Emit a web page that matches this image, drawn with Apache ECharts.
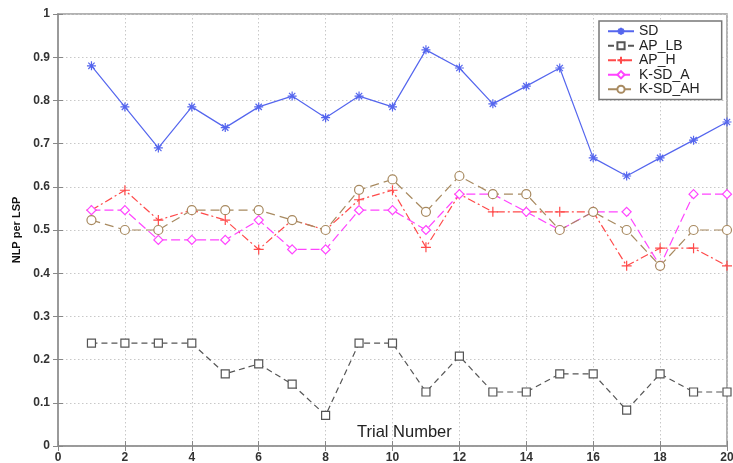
<!DOCTYPE html>
<html>
<head>
<meta charset="utf-8">
<script src="https://cdn.jsdelivr.net/npm/echarts@6/dist/echarts.min.js"></script>
<style>html,body{margin:0;padding:0;background:#fff;}#c{width:733px;height:463px;}</style>
</head>
<body>
<div id="c"></div>
<script>
var trials = [1,2,3,4,5,6,7,8,9,10,11,12,13,14,15,16,17,18,19,20];
var seriesNames = ['SD','AP_LB','AP_H','K-SD_A','K-SD_AH'];
var sdValues   = [0.88,0.785,0.69,0.785,0.737,0.785,0.81,0.76,0.81,0.785,0.917,0.875,0.792,0.833,0.875,0.667,0.625,0.667,0.708,0.75];
var apLbValues = [0.238,0.238,0.238,0.238,0.167,0.19,0.143,0.071,0.238,0.238,0.125,0.208,0.125,0.125,0.167,0.167,0.083,0.167,0.125,0.125];
var apHValues  = [0.546,0.592,0.523,0.546,0.523,0.455,0.523,0.5,0.57,0.592,0.46,0.583,0.542,0.542,0.542,0.542,0.417,0.458,0.458,0.417];
var ksdAValues = [0.546,0.546,0.477,0.477,0.477,0.523,0.455,0.455,0.546,0.546,0.5,0.583,0.583,0.542,0.5,0.542,0.542,0.417,0.583,0.583];
var ksdAhValues= [0.523,0.5,0.5,0.546,0.546,0.546,0.523,0.5,0.593,0.617,0.542,0.625,0.583,0.583,0.5,0.542,0.5,0.417,0.5,0.5];
var yTicks = [0,0.1,0.2,0.3,0.4,0.5,0.6,0.7,0.8,0.9,1];
var xTicks = [0,2,4,6,8,10,12,14,16,18,20];

function pairs(vals){ return trials.map(function(t,i){ return [t, vals[i]]; }); }

var starPath = 'path://M5,0L5,10M0,5L10,5M1.5,1.5L8.5,8.5M8.5,1.5L1.5,8.5';
var plusPath = 'path://M5,0L5,10M0,5L10,5';

var chart = echarts.init(document.getElementById('c'), null, {renderer:'canvas'});
function mk(name, vals, color, lineType, symbol, size, fillWhite){
  return {
    name: name, type: 'line', data: pairs(vals),
    symbol: symbol, symbolSize: size, showSymbol: true,
    lineStyle: {color: color, width: 1.2, type: lineType},
    itemStyle: {color: fillWhite ? '#fff' : color, borderColor: color, borderWidth: 1.2},
    emphasis: {disabled: true},
    animation: false
  };
}
var option = {
  backgroundColor: '#fff',
  animation: false,
  grid: {left: 58, right: 6, top: 14, bottom: 17, show: true, borderColor: '#999', borderWidth: 1.5, outerBoundsMode: 'none', containLabel: false},
  legend: {
    left: 599, top: 21, orient: 'vertical',
    padding: [3, 22, 3, 8],
    itemWidth: 26, itemHeight: 9, itemGap: 0,
    backgroundColor: '#fff', borderColor: '#777', borderWidth: 1.5,
    textStyle: {fontFamily: 'Liberation Sans, Arial, sans-serif', fontSize: 14, lineHeight: 14.5, color: '#222'},
    data: seriesNames.map(function(n){ return {name: n}; })
  },
  xAxis: [{
    type: 'value', min: 0, max: 20, interval: 2,
    axisLine: {show: true, onZero: false, lineStyle: {color: '#999', width: 1.5}},
    axisTick: {show: true, inside: true, length: 5, lineStyle: {color: '#888'}},
    axisLabel: {color: '#333', fontWeight: 'bold', fontSize: 12, fontFamily: 'Liberation Sans, Arial, sans-serif', margin: 6,
      formatter: function(v){ return xTicks.indexOf(v) >= 0 ? String(v) : ''; }},
    splitLine: {show: true, lineStyle: {color: '#c8c8c8', type: [1.5, 2.5], width: 1}}
  },{
    type: 'value', min: 0, max: 20, interval: 2, position: 'top',
    axisLine: {show: true, lineStyle: {color: '#999', width: 1.5}},
    axisTick: {show: true, inside: true, length: 5, lineStyle: {color: '#888'}},
    axisLabel: {show: false}, splitLine: {show: false}
  }],
  yAxis: [{
    type: 'value', min: 0, max: 1, interval: 0.1,
    name: 'NLP per LSP', nameLocation: 'middle', nameGap: 36, nameRotate: 90,
    nameTextStyle: {fontWeight: 'bold', fontSize: 11, color: '#111', fontFamily: 'Liberation Sans, Arial, sans-serif'},
    axisLine: {show: true, onZero: false, lineStyle: {color: '#999', width: 1.5}},
    axisTick: {show: true, inside: true, length: 5, lineStyle: {color: '#888'}},
    axisLabel: {color: '#333', fontWeight: 'bold', fontSize: 12, fontFamily: 'Liberation Sans, Arial, sans-serif', margin: 8,
      formatter: function(v){ var r = Math.round(v*10)/10; return yTicks.indexOf(r) >= 0 ? String(r) : ''; }},
    splitLine: {show: true, lineStyle: {color: '#c8c8c8', type: [1.5, 2.5], width: 1}}
  },{
    type: 'value', min: 0, max: 1, interval: 0.1, position: 'right',
    axisLine: {show: true, lineStyle: {color: '#999', width: 1.5}},
    axisTick: {show: true, inside: true, length: 5, lineStyle: {color: '#888'}},
    axisLabel: {show: false}, splitLine: {show: false}
  }],
  graphic: [{
    type: 'text', left: 357, top: 424,
    style: {text: 'Trial Number', fontSize: 16.5, fill: '#222', fontFamily: 'Liberation Sans, Arial, sans-serif'}
  }],
  series: [
    mk('SD', sdValues, '#5566ee', 'solid', starPath, 9, false),
    mk('AP_LB', apLbValues, '#555555', [6, 4], 'rect', 8, true),
    mk('AP_H', apHValues, '#ff4a4a', [8, 3, 2, 3], plusPath, 10, false),
    mk('K-SD_A', ksdAValues, '#ff44ff', [9, 4], 'diamond', 9, true),
    mk('K-SD_AH', ksdAhValues, '#a88a60', [9, 5], 'circle', 9, true)
  ]
};
chart.setOption(option);
</script>
</body>
</html>
